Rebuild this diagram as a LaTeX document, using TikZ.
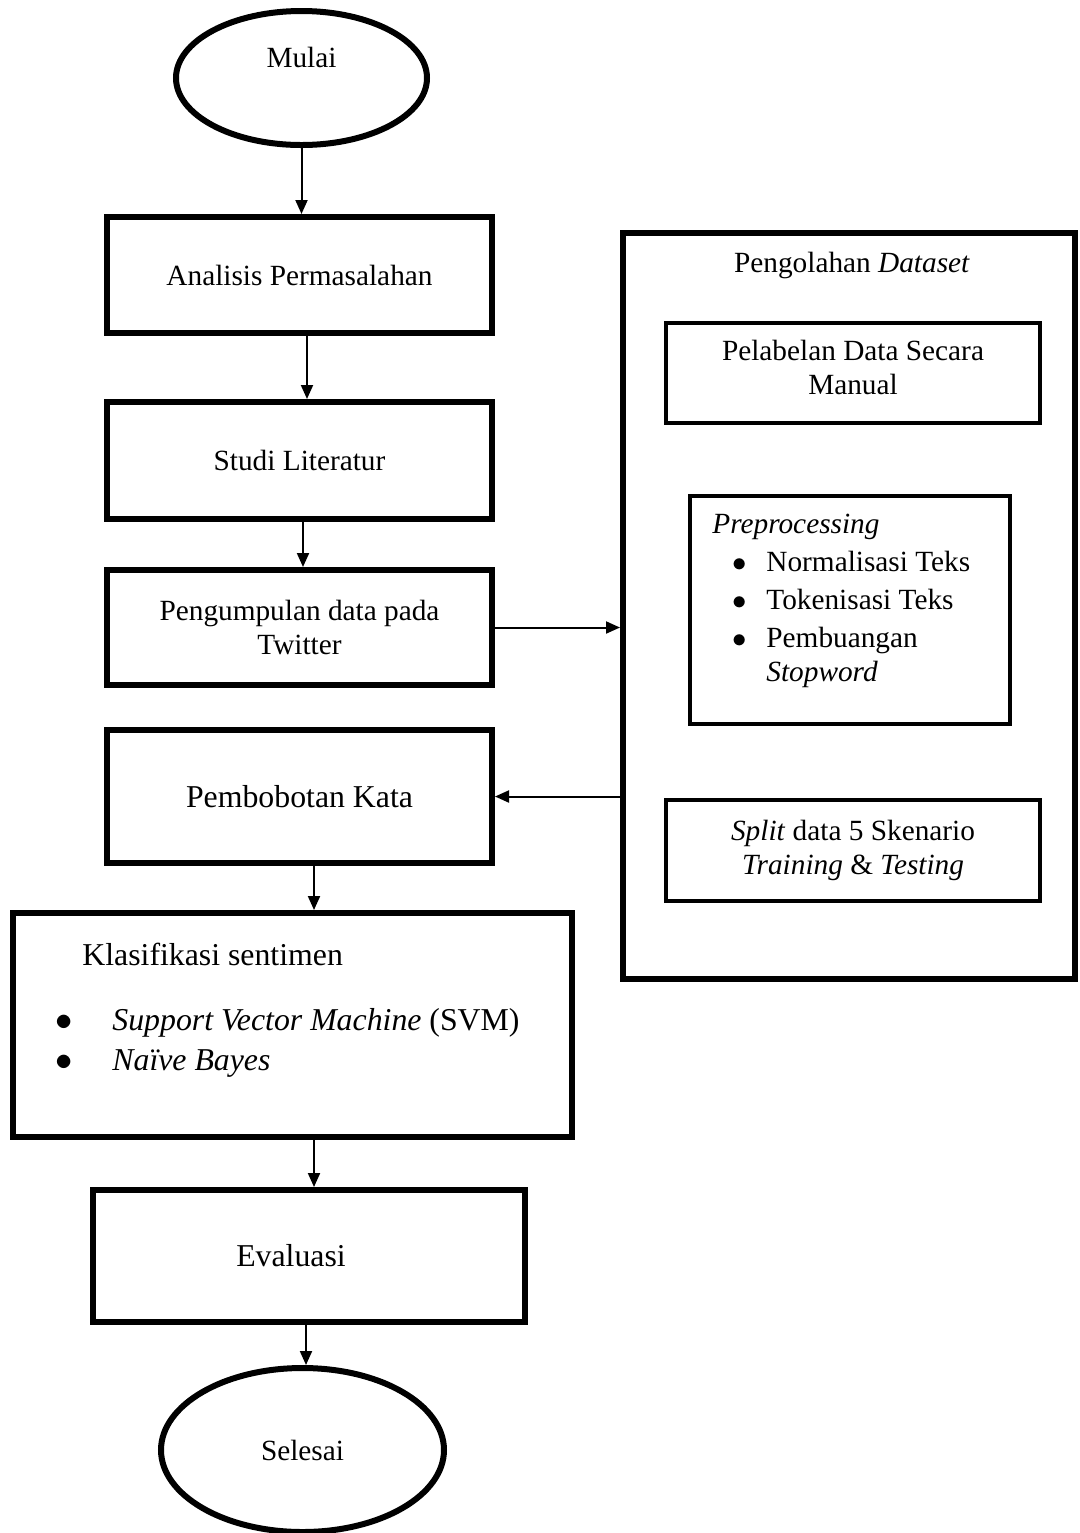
\documentclass[tikz,border=0pt]{standalone}
\usepackage{fontspec}
\setmainfont{Liberation Serif}
\usetikzlibrary{positioning,arrows.meta,shapes.geometric,calc}

\newcommand{\txtn}{\fontsize{14.65}{17}\selectfont}
\newcommand{\txtl}{\fontsize{15.9}{20}\selectfont}
\newcommand{\itm}[1]{\hspace*{10pt}\makebox[17pt][l]{$\bullet$}#1}

\tikzset{
  process/.style={draw, rectangle, line width=3pt, align=center, inner sep=0pt},
  subprocess/.style={draw, rectangle, line width=1.6pt, align=center, inner sep=0pt},
  terminal/.style={draw, ellipse, line width=3pt, inner sep=0pt},
  flow/.style={line width=1pt, -{Triangle[length=7pt,width=6pt]}},
}

\begin{document}
\begin{tikzpicture}[x=0.5pt, y=-0.5pt, font=\txtn]
\useasboundingbox (0,0) rectangle (1080,1533);

% alur utama
\node[terminal, minimum width=125.5pt, minimum height=67pt,
      label={[yshift=10.5pt]center:Mulai}] (mulai) at (301.5,78) {};
\node[process, minimum width=192.5pt, minimum height=58pt] (analisis) at (299.5,275) {Analisis Permasalahan};
\node[process, minimum width=192.5pt, minimum height=58.5pt] (studi) at (299.5,460.5) {Studi Literatur};
\node[process, minimum width=192.5pt, minimum height=57.5pt] (pengumpulan) at (299.5,627.5) {Pengumpulan data pada\\Twitter};
\node[process, minimum width=192.5pt, minimum height=66.5pt, font=\txtl] (pembobotan) at (299.5,796.5) {Pembobotan Kata};
\node[process, minimum width=279.5pt, minimum height=112pt] (klasifikasi) at (292.5,1025) {};
\node[anchor=base west, align=left, inner sep=0pt, font=\txtl] (klasifikasilist) at (55,1070)
  {\hspace*{13.5pt}Klasifikasi sentimen\\[12.5pt]
   \makebox[28.5pt][l]{$\bullet$}\textit{Support Vector Machine} (SVM)\\
   \makebox[28.5pt][l]{$\bullet$}\textit{Naïve Bayes}};
\node[process, minimum width=216pt, minimum height=66pt, font=\txtl] (evaluasi) at (309,1256) {Evaluasi\hspace*{18pt}};
\node[terminal, minimum width=141.5pt, minimum height=82pt] (selesai) at (302.5,1450) {Selesai};

% pengolahan dataset
\node[process, minimum width=226pt, minimum height=373pt,
      label={[anchor=base, yshift=-21pt, xshift=1.5pt]north:Pengolahan \textit{Dataset}}] (olah) at (849,606) {};
\node[subprocess, minimum width=187pt, minimum height=50pt] (pelabelan) at (853,373) {Pelabelan Data Secara\\Manual\\[-11pt]};
\node[subprocess, minimum width=160pt, minimum height=114pt] (preproc) at (850,610) {};
\node[anchor=base west, align=left, inner sep=0pt] (preproclist) at (712,681)
  {\textit{Preprocessing}\\[2pt]
   \itm{Normalisasi Teks}\\[2pt]
   \itm{Tokenisasi Teks}\\[2pt]
   \itm{Pembuangan}\\
   \hspace*{27pt}\textit{Stopword}};
\node[subprocess, minimum width=187pt, minimum height=50.5pt] (split) at (853,850.5) {\textit{Split} data 5 Skenario\\\textit{Training} \& \textit{Testing}};

% panah
\draw[flow] (mulai.south) -- (mulai.south |- analisis.north);
\draw[flow] ([xshift=3.75pt]analisis.south) -- ([xshift=3.75pt]studi.north);
\draw[flow] ([xshift=1.75pt]studi.south) -- ([xshift=1.75pt]pengumpulan.north);
\draw[flow] (pengumpulan.east) -- (pengumpulan.east -| olah.west);
\draw[flow] (olah.west |- pembobotan.east) -- (pembobotan.east);
\draw[flow] ([xshift=7.25pt]pembobotan.south) -- ([xshift=7.25pt]pembobotan.south |- klasifikasi.north);
\draw[flow] ([xshift=10.75pt]klasifikasi.south) -- ([xshift=10.75pt]klasifikasi.south |- evaluasi.north);
\draw[flow] ([xshift=-1.5pt]evaluasi.south) -- ([xshift=-1.5pt]evaluasi.south |- selesai.north);
\end{tikzpicture}
\end{document}
